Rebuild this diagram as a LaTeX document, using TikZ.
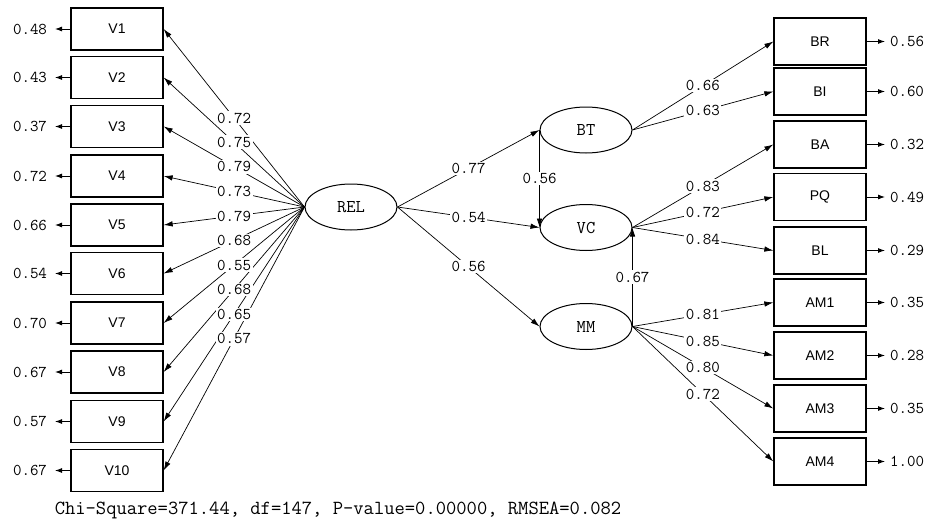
\documentclass[tikz,border=0pt]{standalone}
\usepackage{fontspec}
\newfontfamily\boxfont{Liberation Sans}
\usetikzlibrary{arrows.meta,calc,shapes.geometric}
\tikzset{
  ind/.style={draw, line width=1.3pt, rectangle, minimum width=92pt, minimum height=42pt, inner sep=0pt,
    font=\boxfont\fontsize{14}{16}\selectfont},
  indr/.style={ind, minimum height=47pt},
  lat/.style={draw, line width=1pt, ellipse, minimum width=92pt, minimum height=46pt, inner sep=0pt,
    font=\ttfamily\fontsize{18}{20}\selectfont},
  conn/.style={line width=0.7pt, -{Latex[length=9pt,width=5.5pt]}},
  errarr/.style={line width=0.9pt, -{Latex[length=7pt,width=5pt]}},
  lbl/.style={fill=white, inner sep=1.5pt, font=\ttfamily\fontsize{16.5}{18}\selectfont},
  errlbl/.style={inner sep=0pt, font=\ttfamily\fontsize{16.5}{18}\selectfont},
  fit/.style={font=\ttfamily\fontsize{20}{22}\selectfont}
}
\begin{document}
\begin{tikzpicture}[x=1pt,y=-1pt]
\fill[white] (0,0) rectangle (930,522);
\useasboundingbox (0,0) rectangle (930,522);

% left indicators
\foreach \n/\y/\e in {1/29/0.48, 2/77.5/0.43, 3/126.5/0.37, 4/176/0.72, 5/225/0.66,
  6/273.5/0.54, 7/323/0.70, 8/372/0.67, 9/421.5/0.57, 10/470.5/0.67} {
  \node[ind] (V\n) at (117,\y) {V\n};
  \coordinate (tV\n) at (55,\y);
  \node[errlbl] (eV\n) at (30,\y) {\e};
  \draw[errarr] (V\n.west) -- (tV\n);
}

% right indicators
\foreach \n/\y/\e in {BR/41.5/0.56, BI/91.5/0.60, BA/144.5/0.32, PQ/197/0.49, BL/250.5/0.29,
  AM1/302.5/0.35, AM2/355.5/0.28, AM3/408.5/0.35, AM4/461.5/1.00} {
  \node[indr] (\n) at (820,\y) {\n};
  \coordinate (t\n) at (885,\y);
  \node[errlbl] (e\n) at (907,\y) {\e};
  \draw[errarr] (\n.east) -- (t\n);
}

% latent variables
\node[lat] (REL) at (351,207) {REL};
\node[lat] (BT) at (586,130) {BT};
\node[lat] (VC) at (586,227.5) {VC};
\node[lat] (MM) at (586,326.5) {MM};

% connectors
\foreach \n in {1,...,10} \draw[conn] (REL.west) -- (V\n.east);
\draw[conn] (REL.east) -- (BT.west);
\draw[conn] (REL.east) -- (VC.west);
\draw[conn] (REL.east) -- (MM.west);
\draw[conn] (BT.west) -- (VC.west);
\draw[conn] (MM.east) -- (VC.east);
\foreach \n in {BR,BI} \draw[conn] (BT.east) -- (\n.west);
\foreach \n in {BA,PQ,BL} \draw[conn] (VC.east) -- (\n.west);
\foreach \n in {AM1,AM2,AM3,AM4} \draw[conn] (MM.east) -- (\n.west);

% labels
\foreach \n/\v in {1/0.72,2/0.75,3/0.79,4/0.73,5/0.79,6/0.68,7/0.55,8/0.68,9/0.65,10/0.57}
  \node[lbl] at ($(REL.west)!0.5!(V\n.east)$) {\v};
\node[lbl] at ($(REL.east)!0.5!(BT.west)$) {0.77};
\node[lbl] at ($(REL.east)!0.5!(VC.west)$) {0.54};
\node[lbl] at ($(REL.east)!0.5!(MM.west)$) {0.56};
\node[lbl] at ($(BT.west)!0.5!(VC.west)$) {0.56};
\node[lbl] at ($(MM.east)!0.5!(VC.east)$) {0.67};
\node[lbl] at ($(BT.east)!0.5!(BR.west)$) {0.66};
\node[lbl] at ($(BT.east)!0.5!(BI.west)$) {0.63};
\node[lbl] at ($(VC.east)!0.5!(BA.west)$) {0.83};
\node[lbl] at ($(VC.east)!0.5!(PQ.west)$) {0.72};
\node[lbl] at ($(VC.east)!0.5!(BL.west)$) {0.84};
\node[lbl] at ($(MM.east)!0.5!(AM1.west)$) {0.81};
\node[lbl] at ($(MM.east)!0.5!(AM2.west)$) {0.85};
\node[lbl] at ($(MM.east)!0.5!(AM3.west)$) {0.80};
\node[lbl] at ($(MM.east)!0.5!(AM4.west)$) {0.72};

% fit statistics
\node[fit] (stats) at (338,510) {Chi-Square=371.44, df=147, P-value=0.00000, RMSEA=0.082};
\end{tikzpicture}
\end{document}
